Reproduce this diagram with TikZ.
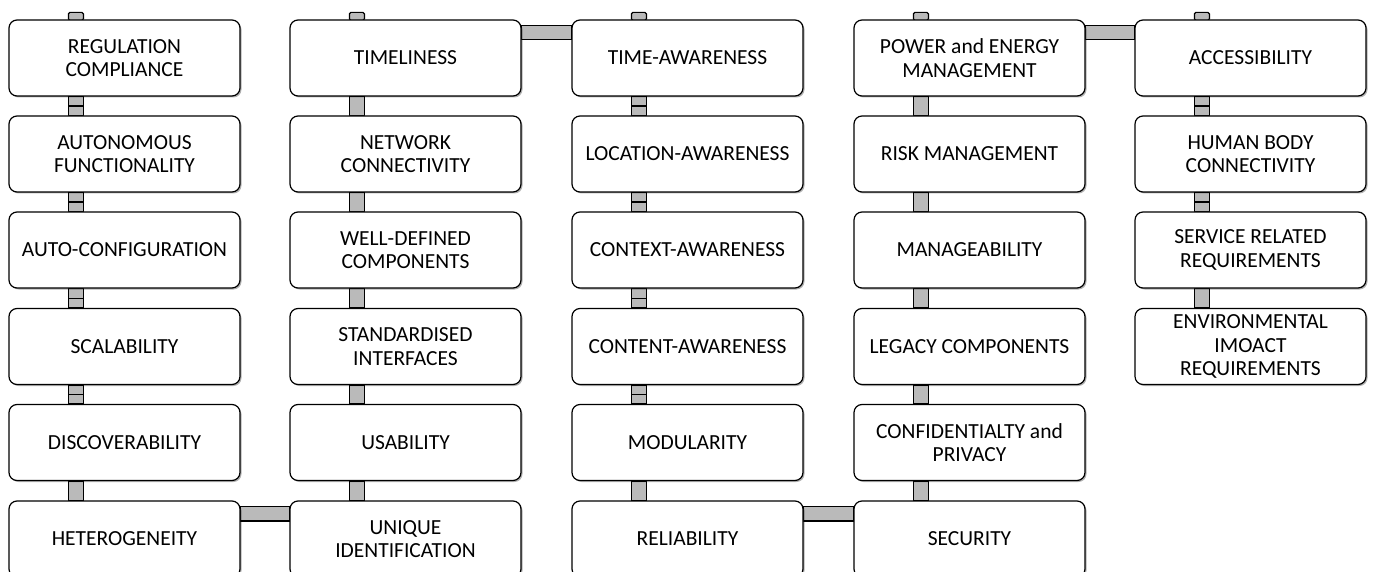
\documentclass[tikz,border=0pt]{standalone}
\usepackage{fontspec}
\setmainfont{Carlito}
\usetikzlibrary{calc,shadows,backgrounds}

\newcommand\vlink[2]{\draw[bar] ($(#1.south west)+(60,0)$) rectangle ($(#2.north west)+(75,0)$);}
\newcommand\vlinkm[2]{\vlink{#1}{#2}
  \draw[line width=1.2pt] ($(#1.south west)!.5!(#2.north west)+(60,0)$) -- ++(15,0);}
\newcommand\hlink[2]{\draw[bar] ($(#1.north east)+(0,6)$) rectangle ($(#2.north west)+(0,20.5)$);}
\newcommand\stub[1]{\draw[bar,rounded corners=1.5pt] ($(#1.north west)+(60,1)$) rectangle ++(15,-8);}

\begin{document}
\begin{tikzpicture}[x=1pt,y=-1pt,
  box/.style={draw,line width=1.2pt,rounded corners=8pt,fill=white,
    minimum width=231pt,minimum height=76pt,inner sep=2pt,align=center,
    font=\fontsize{21.5}{23.5}\selectfont,
    drop shadow={shadow xshift=1.5pt,shadow yshift=-1.5pt,fill=black,opacity=.3}},
  bar/.style={draw,line width=1.2pt,fill=black!27}]

\useasboundingbox (0,0) rectangle (1374,572);

% first column
\node[box] (reg) at (124.5,58)  {REGULATION\\COMPLIANCE};
\node[box] (aut) at (124.5,154) {AUTONOMOUS\\FUNCTIONALITY};
\node[box] (cfg) at (124.5,250) {AUTO-CONFIGURATION};
\node[box] (sca) at (124.5,346.5) {SCALABILITY};
\node[box] (dis) at (124.5,442.5) {DISCOVERABILITY};
\node[box] (het) at (124.5,539) {HETEROGENEITY};

% second column
\node[box] (tml) at (405.5,58)  {TIMELINESS};
\node[box] (net) at (405.5,154) {NETWORK\\CONNECTIVITY};
\node[box] (wdc) at (405.5,250) {WELL-DEFINED\\COMPONENTS};
\node[box] (std) at (405.5,346.5) {STANDARDISED\\INTERFACES};
\node[box] (usa) at (405.5,442.5) {USABILITY};
\node[box] (uid) at (405.5,539) {UNIQUE\\IDENTIFICATION};

% third column
\node[box] (tim) at (687.5,58)  {TIME-AWARENESS};
\node[box] (loc) at (687.5,154) {LOCATION-AWARENESS};
\node[box] (ctx) at (687.5,250) {CONTEXT-AWARENESS};
\node[box] (cnt) at (687.5,346.5) {CONTENT-AWARENESS};
\node[box] (mod) at (687.5,442.5) {MODULARITY};
\node[box] (rel) at (687.5,539) {RELIABILITY};

% fourth column
\node[box] (pow) at (969.5,58)  {POWER and ENERGY\\MANAGEMENT};
\node[box] (rsk) at (969.5,154) {RISK MANAGEMENT};
\node[box] (man) at (969.5,250) {MANAGEABILITY};
\node[box] (leg) at (969.5,346.5) {LEGACY COMPONENTS};
\node[box] (cnf) at (969.5,442.5) {CONFIDENTIALTY and\\PRIVACY};
\node[box] (sec) at (969.5,539) {SECURITY};

% fifth column
\node[box] (acc) at (1250.5,58)  {ACCESSIBILITY};
\node[box] (hum) at (1250.5,154) {HUMAN BODY\\CONNECTIVITY};
\node[box] (srv) at (1250.5,250) {SERVICE RELATED\\REQUIREMENTS};
\node[box] (env) at (1250.5,346.5) {ENVIRONMENTAL\\IMOACT\\REQUIREMENTS};

\begin{pgfonlayer}{background}
\stub{reg} \stub{tml} \stub{tim} \stub{pow} \stub{acc}

\vlinkm{reg}{aut} \vlinkm{aut}{cfg} \vlinkm{cfg}{sca} \vlinkm{sca}{dis} \vlink{dis}{het}
\vlink{tml}{net} \vlink{net}{wdc} \vlink{wdc}{std} \vlink{std}{usa} \vlink{usa}{uid}
\vlinkm{tim}{loc} \vlinkm{loc}{ctx} \vlinkm{ctx}{cnt} \vlinkm{cnt}{mod} \vlink{mod}{rel}
\vlink{pow}{rsk} \vlink{rsk}{man} \vlink{man}{leg} \vlink{leg}{cnf} \vlink{cnf}{sec}
\vlinkm{acc}{hum} \vlinkm{hum}{srv} \vlink{srv}{env}

\hlink{het}{uid}
\hlink{tml}{tim}
\hlink{rel}{sec}
\hlink{pow}{acc}
\end{pgfonlayer}

\end{tikzpicture}
\end{document}
